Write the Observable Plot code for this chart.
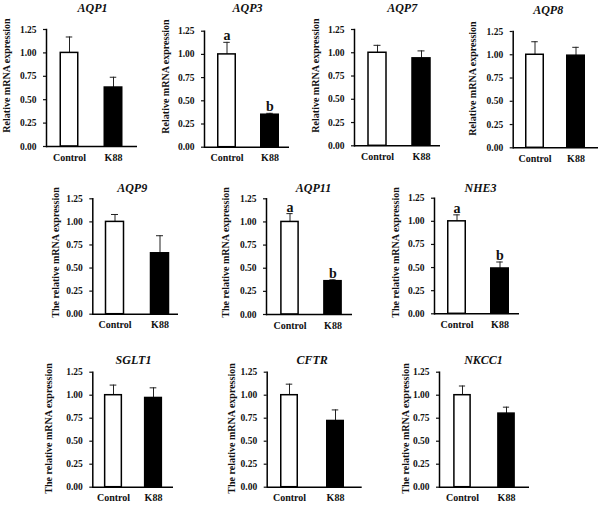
<!DOCTYPE html>
<html><head><meta charset="utf-8">
<script src="https://cdn.jsdelivr.net/npm/d3@7"></script>
<script src="https://cdn.jsdelivr.net/npm/@observablehq/plot@0.6"></script>
<style>
html,body{margin:0;padding:0;background:#fff;}
#chart{position:relative;width:600px;height:505px;overflow:hidden;background:#fff;}
#chart svg{position:absolute;left:0;top:0;}
</style></head><body><div id="chart"></div>
<script>
// ---- data ----
const groups = ["Control", "K88"];
const genes = ["AQP1", "AQP3", "AQP7", "AQP8", "AQP9", "AQP11", "NHE3", "SGLT1", "CFTR", "NKCC1"];
const controlMean = [1.00, 1.00, 1.00, 1.00, 1.00, 1.00, 1.00, 1.00, 1.00, 1.00];
const controlSE   = [0.17, 0.13, 0.08, 0.14, 0.08, 0.09, 0.07, 0.11, 0.12, 0.10];
const k88Mean     = [0.63, 0.35, 0.94, 0.99, 0.66, 0.36, 0.49, 0.97, 0.72, 0.80];
const k88SE       = [0.11, 0.015, 0.08, 0.09, 0.19, 0.015, 0.07, 0.11, 0.12, 0.07];
const controlLetter = ["", "a", "", "", "", "a", "a", "", "", ""];
const k88Letter     = ["", "b", "", "", "", "b", "b", "", "", ""];
const yTicks = [0, 0.25, 0.5, 0.75, 1, 1.25];
const yLabels = ["Relative mRNA expression", "The relative mRNA expression"];
const yLabelIndex = [0, 0, 0, 0, 1, 1, 1, 1, 1, 1];

// ---- layout (pixel geometry of each panel) ----
const layout = [
  {ax:46,   end:137, top:29,    y0:146,   c1:69,    c2:113.5, bw:18, tx:92,    ty:8,     lx:6,     ly:75},
  {ax:204,  end:289, top:30.7,  y0:146.7, c1:226.5, c2:270,   bw:18, tx:247,   ty:8,     lx:165,   ly:76},
  {ax:354,  end:440, top:29,    y0:145.3, c1:377,   c2:421,   bw:18, tx:401.7, ty:8,     lx:315,   ly:75},
  {ax:512.7,end:598, top:31,    y0:147.3, c1:534.5, c2:576,   bw:18, tx:547.7, ty:10,    lx:472.7, ly:78},
  {ax:92.3, end:178, top:198.3, y0:313.7, c1:114,   c2:159,   bw:18, tx:131.7, ty:187.7, lx:55,    ly:252},
  {ax:266,  end:352, top:198.3, y0:314,   c1:288.7, c2:332.5, bw:18, tx:313,   ty:187.7, lx:225,   ly:252},
  {ax:434,  end:519, top:197.7, y0:313.3, c1:456.5, c2:500,   bw:18, tx:480,   ty:187.7, lx:395,   ly:252},
  {ax:92.3, end:173, top:371.7, y0:486.7, c1:113,   c2:153.3, bw:17, tx:133,   ty:360,   lx:48.3,  ly:428},
  {ax:266.7,end:361.7,top:371.7,y0:486.7, c1:289,   c2:335.5, bw:17, tx:311.7, ty:360,   lx:231.7, ly:428},
  {ax:439,  end:529, top:371.7, y0:486.7, c1:461.5, c2:506.3, bw:17, tx:483,   ty:360,   lx:405,   ly:428}
];

const W = 600, H = 505;
const chart = document.getElementById("chart");
const font = "'Liberation Serif','Times New Roman',Times,serif";

genes.forEach((gene, i) => {
  const L = layout[i];
  const rows = groups.map((grp, j) => ({
    group: grp,
    mean: j ? k88Mean[i] : controlMean[i],
    se: j ? k88SE[i] : controlSE[i],
    letter: j ? k88Letter[i] : controlLetter[i]
  }));
  const s = L.c2 - L.c1;
  const barInset = (s - L.bw) / 2;
  const capInset = (s - 7) / 2;
  const plot = Plot.plot({
    width: W, height: H,
    marginLeft: L.ax, marginRight: W - L.end, marginTop: L.top, marginBottom: H - L.y0,
    style: {fontFamily: font, fontWeight: "bold", fontSize: "9.5px", color: "#111", background: "transparent", overflow: "visible"},
    x: {domain: groups, range: [L.c1 - s / 2, L.c2 + s / 2], padding: 0, axis: null},
    y: {domain: [0, 1.25], axis: null},
    color: {domain: groups, range: ["#ffffff", "#000000"]},
    marks: [
      Plot.ruleX(rows, {x: "group", y1: d => d.mean, y2: d => d.mean + d.se, stroke: "#222", strokeWidth: 1}),
      Plot.tickY(rows, {x: "group", y: d => d.mean + d.se, insetLeft: capInset, insetRight: capInset, stroke: "#222", strokeWidth: 1}),
      Plot.barY(rows, {x: "group", y: "mean", fill: "group", stroke: "#000", strokeWidth: 1.5, insetLeft: barInset, insetRight: barInset}),
      Plot.axisY({ticks: yTicks, tickFormat: d3.format(".2f"), tickSize: 3, tickPadding: 7, label: null, strokeWidth: 1.2}),
      Plot.axisX({tickSize: 0, tickPadding: 7, label: null, fontSize: 10}),
      Plot.ruleY([0], {stroke: "#000", strokeWidth: 1.5}),
      Plot.frame({anchor: "left", stroke: "#000", strokeWidth: 1.5}),
      Plot.text(rows.filter(d => d.letter), {x: "group", y: d => d.mean + d.se, text: "letter", lineAnchor: "bottom", dy: -2, fontSize: 14}),
      Plot.text([gene], {frameAnchor: "top-left", textAnchor: "middle", lineAnchor: "middle", dx: L.tx - L.ax, dy: L.ty - L.top, text: d => d, fontStyle: "italic", fontSize: 12}),
      Plot.text([yLabels[yLabelIndex[i]]], {frameAnchor: "top-left", textAnchor: "middle", lineAnchor: "middle", dx: L.lx - L.ax, dy: L.ly - L.top, text: d => d, rotate: -90, fontSize: 10})
    ]
  });
  chart.appendChild(plot);
});
</script></body></html>
